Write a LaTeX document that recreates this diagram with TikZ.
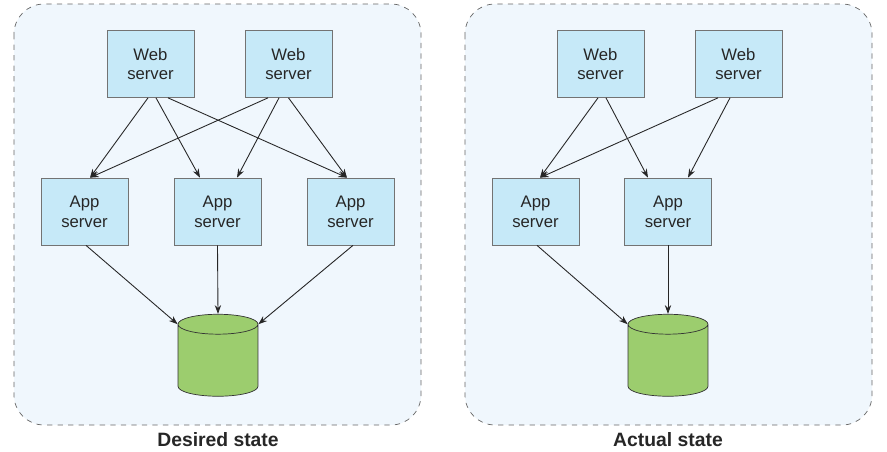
\documentclass[tikz,border=0pt]{standalone}
\usepackage{fontspec}
\setmainfont{Liberation Sans}
\usetikzlibrary{arrows.meta,shapes.geometric,calc}

\definecolor{panelfill}{HTML}{F0F7FD}
\definecolor{boxfill}{HTML}{C6E9F8}
\definecolor{dbfill}{HTML}{9CCD6E}

\tikzset{
  panel/.style={draw=black!60, dashed, fill=panelfill, rounded corners=0.6cm},
  server/.style={draw=black!55, fill=boxfill, minimum width=1.74cm, minimum height=1.34cm,
    align=center, font=\fontsize{9.5}{11.3}\selectfont, text=black!85},
  db/.style={cylinder, shape border rotate=90, draw=black!80, fill=dbfill, aspect=1.7,
    minimum width=1.6cm, minimum height=1.64cm},
  link/.style={-{Stealth[length=5pt,width=3.6pt]}, black!85, line width=0.5pt},
  caption/.style={font=\fontsize{11}{13}\selectfont\bfseries, text=black!85}
}

\begin{document}
\begin{tikzpicture}[x=0.02cm, y=-0.02cm]
      \useasboundingbox (0, 0) rectangle (887, 451);

      \draw[panel] (14, 4) rectangle (421, 425);
      \draw[panel] (465, 4) rectangle (872, 425);

      % desired state
      \node[server] (w1) at (150.5, 64) {Web\\server};
      \node[server] (w2) at (288.5, 64) {Web\\server};
      \node[server] (a1) at (84.5, 211.5) {App\\server};
      \node[server] (a2) at (217.5, 211.5) {App\\server};
      \node[server] (a3) at (350.5, 211.5) {App\\server};
      \node[db] (d) at (218, 363) {};
      \node[caption] (desired) at (218, 440) {Desired state};

      \draw[link] ($(w1.south)+(-2.5,0)$) -- ($(a1.north)+(5.5,0)$);
      \draw[link] ($(w1.south)+(5.5,0)$) -- ($(a2.north)+(-17.5,0)$);
      \draw[link] ($(w1.south)+(17.5,0)$) -- ($(a3.north)+(-3.5,0)$);
      \draw[link] ($(w2.south)+(-20.5,0)$) -- ($(a1.north)+(5.5,0)$);
      \draw[link] ($(w2.south)+(-9.5,0)$) -- ($(a2.north)+(19.5,0)$);
      \draw[link] (w2.south) -- ($(a3.north)+(-3.5,0)$);

      \draw[link] ($(a1.south)+(1.5,0)$) -- (d.before top);
      \draw[link] (a2.south) -- (d.top);
      \draw[link] ($(a3.south)+(2.5,0)$) -- (d.after top);

      % actual state
      \node[server] (v1) at (600.5, 64) {Web\\server};
      \node[server] (v2) at (738.5, 64) {Web\\server};
      \node[server] (b1) at (535.5, 211.5) {App\\server};
      \node[server] (b2) at (668, 211.5) {App\\server};
      \node[db] (e) at (668, 363) {};
      \node[caption] (actual) at (668, 440) {Actual state};

      \draw[link] ($(v1.south)+(-2.5,0)$) -- ($(b1.north)+(4.5,0)$);
      \draw[link] ($(v1.south)+(5.5,0)$) -- ($(b2.north)+(-20,0)$);
      \draw[link] ($(v2.south)+(-20.5,0)$) -- ($(b1.north)+(4.5,0)$);
      \draw[link] ($(v2.south)+(-8.5,0)$) -- ($(b2.north)+(20,0)$);

      \draw[link] ($(b1.south)+(1.5,0)$) -- (e.before top);
      \draw[link] (b2.south) -- (e.top);
    \end{tikzpicture}
\end{document}
